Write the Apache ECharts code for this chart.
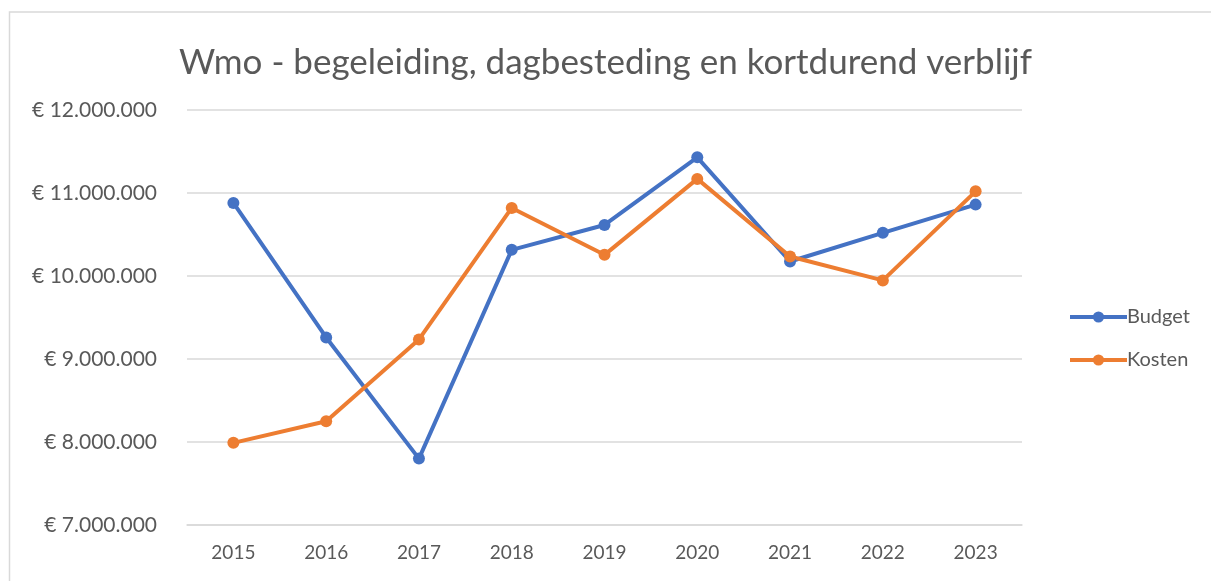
<!DOCTYPE html>
<html>
<head>
<meta charset="utf-8">
<script src="https://cdn.jsdelivr.net/npm/echarts@6/dist/echarts.min.js"></script>
<style>
html,body{margin:0;padding:0;background:#fff;}
#chart{width:1211px;height:581px;}
</style>
</head>
<body>
<div id="chart"></div>
<script>
const years = ['2015','2016','2017','2018','2019','2020','2021','2022','2023'];
const budget = [10880000, 9260000, 7800000, 10315000, 10615000, 11430000, 10175000, 10520000, 10860000];
const kosten = [7990000, 8250000, 9236000, 10820000, 10255000, 11170000, 10235000, 9947000, 11020000];
const titleText = 'Wmo - begeleiding, dagbesteding en kortdurend verblijf';
const seriesNames = ['Budget', 'Kosten'];

function euro(v){
  return '€ ' + String(Math.round(v)).replace(/\B(?=(\d{3})+(?!\d))/g, '.');
}

const chart = echarts.init(document.getElementById('chart'), null, {renderer:'canvas'});
const font = 'Lato, "Open Sans", sans-serif';
chart.setOption({
  animation:false,
  backgroundColor:'#fff',
  graphic:[{
    type:'rect', silent:true, z:-1,
    shape:{x:9.5, y:12, width:1300, height:700},
    style:{fill:'#fff', stroke:'#d9d9d9', lineWidth:1.5}
  }],
  title:{
    text:titleText,
    left:'center', top:40,
    textStyle:{fontFamily:font, fontSize:35, fontWeight:'normal', color:'#595959'}
  },
  grid:{left:187, right:189, top:110, bottom:56, containLabel:false},
  legend:{
    orient:'vertical', left:1063, top:302, itemWidth:57, itemHeight:14, itemGap:23,
    lineStyle:{width:4},
    textStyle:{fontFamily:font, fontSize:20, color:'#595959', padding:[0,0,0,-5]},
    data:seriesNames
  },
  xAxis:{
    type:'category', data:years, boundaryGap:true,
    axisLine:{show:true, lineStyle:{color:'#d9d9d9', width:1.5}},
    axisTick:{show:false},
    axisLabel:{fontFamily:font, fontSize:19, color:'#595959', margin:18}
  },
  yAxis:{
    type:'value', min:7000000, max:12000000, interval:1000000,
    axisLine:{show:false}, axisTick:{show:false},
    splitLine:{lineStyle:{color:'#d9d9d9', width:1.5}},
    axisLabel:{fontFamily:font, fontSize:21, color:'#595959', margin:30, formatter:euro}
  },
  series:[
    {name:seriesNames[0], type:'line', data:budget, symbol:'circle', symbolSize:12,
     lineStyle:{width:4, color:'#4472C4'}, itemStyle:{color:'#4472C4'}},
    {name:seriesNames[1], type:'line', data:kosten, symbol:'circle', symbolSize:12,
     lineStyle:{width:4, color:'#ED7D31'}, itemStyle:{color:'#ED7D31'}}
  ]
});
</script>
</body>
</html>
